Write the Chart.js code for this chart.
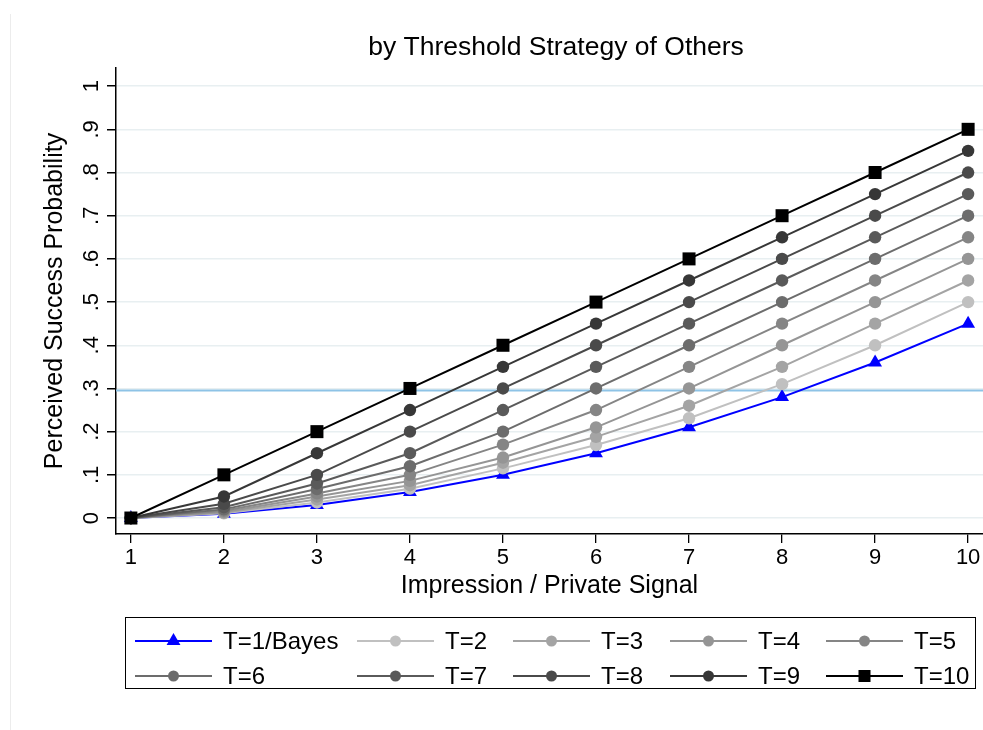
<!DOCTYPE html>
<html><head><meta charset="utf-8">
<script src="https://cdn.jsdelivr.net/npm/chart.js@4.4.1/dist/chart.umd.min.js"></script>
<style>
html,body{margin:0;padding:0;background:#fff;overflow:hidden;}
#wrap{position:relative;width:983px;height:730px;}
#edge{position:absolute;left:10px;top:14px;width:1px;height:716px;background:#ececec;}
canvas{position:absolute;left:0;top:0;}
</style></head><body>
<div id="wrap"><div id="edge"></div><canvas id="c" width="983" height="730"></canvas></div>
<script>
const titleText = 'by Threshold Strategy of Others';
const xTitle = 'Impression / Private Signal';
const yTitle = 'Perceived Success Probability';
const signals = [1, 2, 3, 4, 5, 6, 7, 8, 9, 10];
const yTickValues = [0, 0.1, 0.2, 0.3, 0.4, 0.5, 0.6, 0.7, 0.8, 0.9, 1];
const yTickLabels = ['0', '.1', '.2', '.3', '.4', '.5', '.6', '.7', '.8', '.9', '1'];
const seriesLabels = ['T=1/Bayes', 'T=2', 'T=3', 'T=4', 'T=5', 'T=6', 'T=7', 'T=8', 'T=9', 'T=10'];
const t1  = [0, 0.010, 0.030, 0.060, 0.100, 0.150, 0.210, 0.280, 0.360, 0.450];
const t2  = [0, 0.011, 0.036, 0.068, 0.115, 0.169, 0.231, 0.310, 0.400, 0.500];
const t3  = [0, 0.012, 0.043, 0.076, 0.128, 0.188, 0.260, 0.350, 0.450, 0.550];
const t4  = [0, 0.014, 0.050, 0.086, 0.140, 0.210, 0.300, 0.400, 0.500, 0.600];
const t5  = [0, 0.017, 0.057, 0.100, 0.170, 0.250, 0.350, 0.450, 0.550, 0.650];
const t6  = [0, 0.020, 0.067, 0.120, 0.200, 0.300, 0.400, 0.500, 0.600, 0.700];
const t7  = [0, 0.025, 0.080, 0.150, 0.250, 0.350, 0.450, 0.550, 0.650, 0.750];
const t8  = [0, 0.033, 0.100, 0.200, 0.300, 0.400, 0.500, 0.600, 0.700, 0.800];
const t9  = [0, 0.050, 0.150, 0.250, 0.350, 0.450, 0.550, 0.650, 0.750, 0.850];
const t10 = [0, 0.100, 0.200, 0.300, 0.400, 0.500, 0.600, 0.700, 0.800, 0.900];
const referenceLevel = [0.295];

const seriesValues = [t1, t2, t3, t4, t5, t6, t7, t8, t9, t10];
const seriesColors = ['#0000ff', '#c0c0c0', '#a4a4a4', '#959595', '#858585', '#6c6c6c', '#5a5a5a', '#4a4a4a', '#373737', '#000000'];
const FONT = "'Liberation Sans', Arial, Helvetica, sans-serif";

const datasets = seriesValues.map((vals, i) => ({
  label: seriesLabels[i],
  data: signals.map((x, j) => ({ x: x, y: vals[j] })),
  borderColor: seriesColors[i],
  backgroundColor: seriesColors[i],
  pointBackgroundColor: seriesColors[i],
  pointBorderColor: seriesColors[i],
  pointStyle: i === 0 ? 'triangle' : (i === 9 ? 'rect' : 'circle'),
  pointRadius: i === 0 ? 8 : (i === 9 ? 9.2 : 6.2),
  pointBorderWidth: 0,
  borderWidth: 2,
  tension: 0,
  clip: false,
  order: 10 - i
}));

const noPad = s => { s.paddingLeft = 0; s.paddingRight = 0; s.paddingTop = 0; s.paddingBottom = 0; };

const customDraw = {
  id: 'customDraw',
  beforeDatasetsDraw(chart) {
    const { ctx, chartArea: a, scales: { y } } = chart;
    referenceLevel.forEach(v => {
      const py = y.getPixelForValue(v);
      ctx.save();
      ctx.strokeStyle = '#8ec3e6';
      ctx.lineWidth = 2;
      ctx.beginPath();
      ctx.moveTo(a.left, py);
      ctx.lineTo(a.right, py);
      ctx.stroke();
      ctx.restore();
    });
  },
  afterDraw(chart) {
    const { ctx, chartArea: a, scales: { y } } = chart;
    ctx.save();
    ctx.fillStyle = '#000';
    ctx.font = '26.5px ' + FONT;
    ctx.textAlign = 'center';
    ctx.textBaseline = 'middle';
    ctx.fillText(titleText, 556, 48);
    ctx.font = '22px ' + FONT;
    yTickValues.forEach((v, k) => {
      const py = y.getPixelForValue(v);
      ctx.save();
      ctx.translate(a.left - 24, py);
      ctx.rotate(-Math.PI / 2);
      ctx.textAlign = 'center';
      ctx.textBaseline = 'middle';
      ctx.fillText(yTickLabels[k], 0, 0);
      ctx.restore();
    });
    const box = { l: 125.5, t: 617.5, w: 850, h: 71 };
    ctx.strokeStyle = '#000';
    ctx.lineWidth = 1;
    ctx.strokeRect(box.l, box.t, box.w, box.h);
    const colX = [135, 357, 513, 670, 826];
    const rowY = [641, 676];
    chart.data.datasets.forEach((ds, i) => {
      const x0 = colX[i % 5], yy = rowY[Math.floor(i / 5)];
      ctx.strokeStyle = ds.borderColor;
      ctx.lineWidth = 2;
      ctx.beginPath();
      ctx.moveTo(x0, yy);
      ctx.lineTo(x0 + 77, yy);
      ctx.stroke();
      ctx.fillStyle = ds.pointBackgroundColor;
      const r = ds.pointStyle === 'triangle' ? 8 : (ds.pointStyle === 'rect' ? 8.5 : 5.5);
      Chart.helpers.drawPoint(ctx, { pointStyle: ds.pointStyle, radius: r, borderWidth: 0, rotation: 0 }, x0 + 38.5, yy);
      ctx.fillStyle = '#000';
      ctx.font = '24px ' + FONT;
      ctx.textAlign = 'left';
      ctx.textBaseline = 'middle';
      ctx.fillText(ds.label, x0 + 88, yy + 1);
    });
    ctx.restore();
  }
};

new Chart(document.getElementById('c'), {
  type: 'line',
  data: { datasets: datasets },
  plugins: [customDraw],
  options: {
    responsive: false,
    animation: false,
    layout: { autoPadding: false, padding: { left: 0, right: 0, top: 68, bottom: 126 } },
    plugins: { legend: { display: false }, tooltip: { enabled: false }, title: { display: false } },
    scales: {
      x: {
        type: 'linear', min: 0.84, max: 10.16,
        afterBuildTicks: s => { s.ticks = signals.map(v => ({ value: v })); },
        afterFit: s => { s.height = 70; noPad(s); },
        grid: { drawOnChartArea: false, drawTicks: true, tickLength: 9, tickColor: '#000', lineWidth: 1.3 },
        border: { display: true, color: '#000', width: 1.5 },
        ticks: { color: '#000', font: { family: FONT, size: 22 }, padding: 2, autoSkip: false, maxRotation: 0, minRotation: 0, callback: v => String(v) },
        title: { display: true, text: xTitle, color: '#000', font: { family: FONT, size: 25 }, padding: { top: 0, bottom: 3 } }
      },
      y: {
        type: 'linear', min: -0.037, max: 1.042,
        afterBuildTicks: s => { s.ticks = yTickValues.map(v => ({ value: v })); },
        afterFit: s => { s.width = 116; noPad(s); },
        grid: { color: '#e8eff1', lineWidth: 1.5, drawTicks: true, tickLength: 9, tickColor: '#000' },
        border: { display: true, color: '#000', width: 1.5 },
        ticks: { display: false },
        title: { display: true, text: yTitle, color: '#000', font: { family: FONT, size: 25 }, padding: { top: 40, bottom: 0 } }
      }
    }
  }
});
</script>
</body></html>
